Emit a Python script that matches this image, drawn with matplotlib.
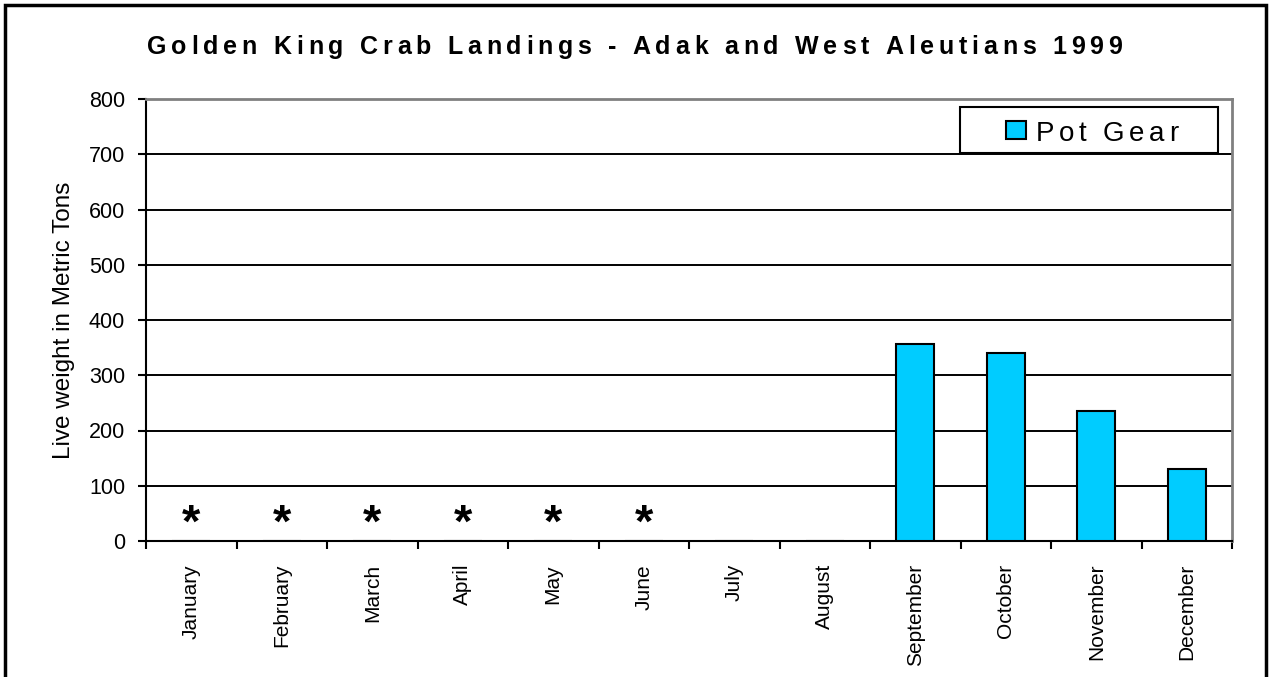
import numpy as np
import matplotlib.pyplot as plt
from matplotlib.patches import Rectangle
from matplotlib.font_manager import FontProperties, findfont
from matplotlib.ft2font import FT2Font

plt.rcParams['font.family'] = ['Liberation Sans', 'DejaVu Sans']

# Data
months = ["January", "February", "March", "April", "May", "June",
          "July", "August", "September", "October", "November", "December"]
pot_gear = [0, 0, 0, 0, 0, 0, 0, 0, 356, 341, 236, 131]
# months with confidential data, marked with an asterisk
confidential = ["January", "February", "March", "April", "May", "June"]
yticks = [0, 100, 200, 300, 400, 500, 600, 700, 800]
title = "Golden King Crab Landings - Adak and West Aleutians 1999"
series_name = "Pot Gear"

W, H = 1269, 677
fig = plt.figure(figsize=(W / 100, H / 100), dpi=100)
ax = fig.add_axes([146 / W, 1 - 541 / H, 1086 / W, 442 / H])


def tracked_text(s, x_left, baseline, width_px, size, weight='normal', **kw):
    """Draw text in figure pixels with extra letter spacing to fill width_px."""
    prop = FontProperties(family='Liberation Sans', weight=weight, size=size)
    font = FT2Font(findfont(prop))
    font.set_size(size, 100)
    advs = [font.load_char(ord(c)).linearHoriAdvance / 65536 for c in s]
    track = (width_px - sum(advs)) / (len(s) - 1)
    pos = x_left
    for c, a in zip(s, advs):
        if c != ' ':
            fig.text((pos + a / 2) / W, 1 - baseline / H, c, ha='center',
                     va='baseline', fontproperties=prop, **kw)
        pos += a + track


# frame around the whole figure
fig.patches.append(Rectangle((5 / W, -0.01), 1261 / W, 1 - 5 / H + 0.01,
                             transform=fig.transFigure, fill=False,
                             edgecolor='black', linewidth=2.5))

x = np.arange(len(months))
ax.bar(x, pot_gear, width=0.42, color='#00CCFF', edgecolor='black',
       linewidth=1.5, label=series_name, zorder=3)

for m in confidential:
    ax.text(months.index(m), 30, '*', ha='center', va='center',
            fontsize=34, fontweight='bold', zorder=4)

ax.set_xlim(-0.5, len(months) - 0.5)
ax.set_ylim(0, 800)
ax.set_yticks(yticks)
ax.set_yticklabels([str(v) for v in yticks], fontsize=15.5)
ax.yaxis.grid(True, color='black', linewidth=1.4, zorder=0)
ax.set_axisbelow(True)

ax.set_xticks(x)
ax.set_xticklabels(months, rotation=90, fontsize=15)
ax.tick_params(axis='x', length=0, pad=16.5)
ax.set_xticks(np.arange(-0.5, len(months)), minor=True)
ax.tick_params(axis='x', which='minor', length=6, width=1.5, direction='out')
ax.tick_params(axis='y', length=6, width=1.5, direction='out', pad=9)

ax.spines['left'].set_linewidth(1.5)
ax.spines['bottom'].set_linewidth(1.5)
for side in ('top', 'right'):
    ax.spines[side].set_color('#808080')
    ax.spines[side].set_linewidth(2)

ax.set_ylabel('Live weight in Metric Tons', fontsize=17.5, labelpad=10)

# title with wide letter spacing
tracked_text(title, 147, 54, 975, 18, weight='bold')

# legend box drawn by hand so its label can be letter-spaced
fig.patches.append(Rectangle((960 / W, 1 - 153 / H), 258 / W, 46 / H,
                             transform=fig.transFigure, facecolor='white',
                             edgecolor='black', linewidth=1.5, zorder=5))
fig.patches.append(Rectangle((1006 / W, 1 - 139 / H), 20 / W, 18 / H,
                             transform=fig.transFigure, facecolor='#00CCFF',
                             edgecolor='black', linewidth=1.5, zorder=6))
tracked_text(series_name, 1036, 141, 142, 20, zorder=7)

fig.savefig('out.png', dpi=100)
